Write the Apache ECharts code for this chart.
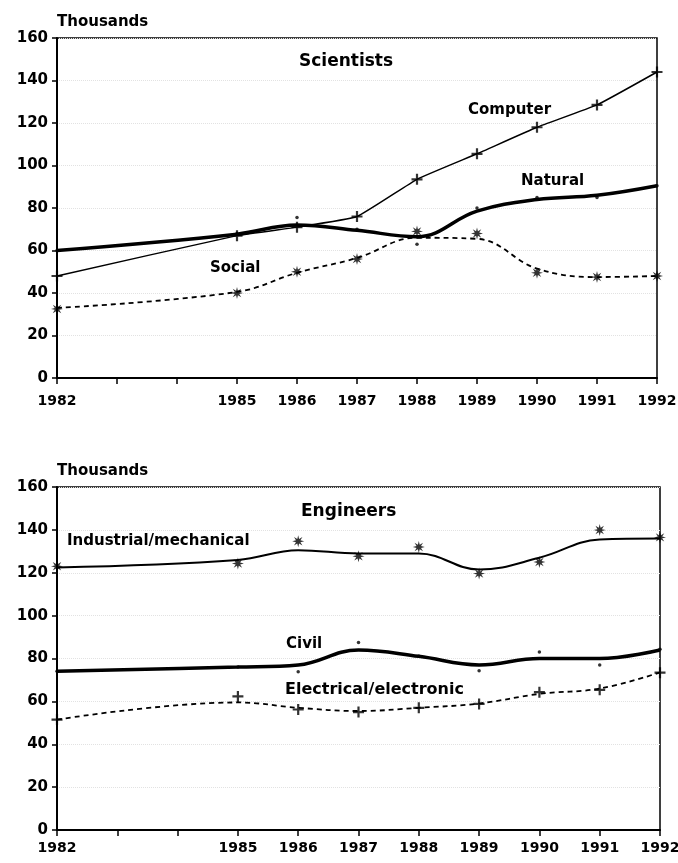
<!DOCTYPE html>
<html>
<head>
<meta charset="utf-8">
<script src="https://cdn.jsdelivr.net/npm/echarts@6/dist/echarts.min.js"></script>
<style>
  html, body { margin: 0; padding: 0; background: #fff; }
  #chart { width: 678px; height: 863px; }
</style>
</head>
<body>
<div id="chart"></div>
<script>
  // years on the horizontal axis (1983 and 1984 have ticks but no data)
  const years = [1982, 1985, 1986, 1987, 1988, 1989, 1990, 1991, 1992]
  const yTicks = [0, 20, 40, 60, 80, 100, 120, 140, 160]

  // Scientists, thousands
  const computer = [48, 67, 71, 76, 93.5, 105.5, 118, 128.5, 144]
  const naturalPts = [60, 68, 75.5, 70, 63, 80, 85, 85, 90.5]
  const naturalFit = [60, 67.7, 72, 69.5, 66.5, 78.5, 84, 86, 90.5]
  const socialPts = [32.5, 40, 50, 56, 69, 68, 49.5, 47.5, 48]
  const socialFit = [33, 40.5, 49.5, 56.5, 66, 65.5, 51.5, 47.5, 48]

  // Engineers, thousands
  const industrialPts = [123, 124.3, 134.7, 127.7, 132, 119.6, 125, 139.9, 136.5]
  const industrialFit = [122.5, 126, 130.5, 129, 129, 121.5, 127, 135.5, 136]
  const civilPts = [74, 76, 73.8, 87.5, 81, 74.3, 83, 77, 84.3]
  const civilFit = [74, 76, 77, 84, 81, 77, 80, 80, 84]
  const electricalPts = [51.5, 62.3, 56.2, 55, 57, 58.8, 64.3, 65.4, 73.4]
  const electricalFit = [51.5, 59.5, 57, 55.5, 57, 59, 63.5, 66, 73.5]

  const pair = arr => years.map((y, i) => [y, arr[i]])

  const FONT = '"DejaVu Sans", Verdana, sans-serif'
  const PLUS = 'path://M4,0h2v4h4v2h-4v4h-2v-4h-4v-2h4z'
  const STAR = 'path://M10,0L3.7,1.53L7.07,7.07L1.53,3.7L0,10L-1.53,3.7L-7.07,7.07L-3.7,1.53L-10,0L-3.7,-1.53L-7.07,-7.07L-1.53,-3.7L0,-10L1.53,-3.7L7.07,-7.07L3.7,-1.53Z'

  const xAxisFor = (gridIndex, margin) => ({
    type: 'value',
    gridIndex,
    min: 1982,
    max: 1992,
    interval: 1,
    axisLine: { lineStyle: { color: '#000', width: 2 } },
    axisTick: { length: 6, lineStyle: { color: '#000', width: 1.5 } },
    axisLabel: {
      color: '#000',
      fontFamily: FONT,
      fontWeight: 'bold',
      fontSize: 14,
      margin,
      formatter: v => (v === 1983 || v === 1984 ? '' : String(v))
    },
    splitLine: { show: false }
  })

  const yAxisFor = gridIndex => ({
    type: 'value',
    gridIndex,
    min: yTicks[0],
    max: yTicks[yTicks.length - 1],
    interval: 20,
    name: 'Thousands',
    nameLocation: 'end',
    nameGap: 8,
    nameTextStyle: {
      color: '#000',
      fontFamily: FONT,
      fontWeight: 'bold',
      fontSize: 15,
      align: 'left'
    },
    axisLine: { show: true, lineStyle: { color: '#000', width: 2 } },
    axisTick: { show: true, length: 5, lineStyle: { color: '#000', width: 1.5 } },
    axisLabel: {
      color: '#000',
      fontFamily: FONT,
      fontWeight: 'bold',
      fontSize: 15,
      margin: 9
    },
    splitLine: { show: true, lineStyle: { color: '#e2e2e2', type: 'dotted', width: 1 } }
  })

  const fitLine = (name, idx, data, width, type, smooth) => ({
    name,
    type: 'line',
    xAxisIndex: idx,
    yAxisIndex: idx,
    data: pair(data),
    smooth: smooth == null ? 0.4 : smooth,
    showSymbol: false,
    lineStyle: { color: '#000', width, type },
    z: 2
  })

  const marks = (name, idx, data, symbol, size) => ({
    name,
    type: 'scatter',
    xAxisIndex: idx,
    yAxisIndex: idx,
    data: pair(data),
    symbol,
    symbolSize: size,
    itemStyle: { color: '#000' },
    z: 3
  })

  const label = (text, left, top, size) => ({
    type: 'text',
    left,
    top,
    style: {
      text,
      fill: '#000',
      font: `bold ${size || 15}px ${FONT}`
    }
  })

  const chart = echarts.init(document.getElementById('chart'), null, { renderer: 'canvas' })

  const titleStyle = { fontFamily: FONT, fontWeight: 'bold', fontSize: 17, color: '#000' }

  const option = {
    animation: false,
    backgroundColor: '#fff',
    title: [
      { text: 'Scientists', left: 294, top: 48, textStyle: titleStyle },
      { text: 'Engineers', left: 296, top: 498, textStyle: titleStyle }
    ],
    grid: [
      {
        left: 57, right: 21, top: 38, height: 340,
        show: true, borderColor: '#000', borderWidth: 1.5, outerBoundsMode: 'none'
      },
      {
        left: 57, right: 18, top: 487, height: 343,
        show: true, borderColor: '#000', borderWidth: 1.5, outerBoundsMode: 'none'
      }
    ],
    xAxis: [xAxisFor(0, 16), xAxisFor(1, 11)],
    yAxis: [yAxisFor(0), yAxisFor(1)],
    series: [
      fitLine('Computer', 0, computer, 1.5, 'solid', 0.12),
      marks('Computer', 0, computer, PLUS, 11),
      fitLine('Natural', 0, naturalFit, 3.5, 'solid'),
      marks('Natural', 0, naturalPts, 'circle', 3.5),
      fitLine('Social', 0, socialFit, 1.8, [5, 4]),
      marks('Social', 0, socialPts, STAR, 12),

      fitLine('Industrial/mechanical', 1, industrialFit, 2, 'solid'),
      marks('Industrial/mechanical', 1, industrialPts, STAR, 12),
      fitLine('Civil', 1, civilFit, 3.5, 'solid'),
      marks('Civil', 1, civilPts, 'circle', 3.5),
      fitLine('Electrical/electronic', 1, electricalFit, 1.8, [5, 4]),
      marks('Electrical/electronic', 1, electricalPts, PLUS, 11)
    ],
    graphic: [
      label('Computer', 468, 103),
      label('Natural', 521, 174),
      label('Social', 210, 261),
      label('Industrial/mechanical', 67, 534),
      label('Civil', 286, 637),
      label('Electrical/electronic', 285, 682, 16)
    ]
  }

  chart.setOption(option)
</script>
</body>
</html>
